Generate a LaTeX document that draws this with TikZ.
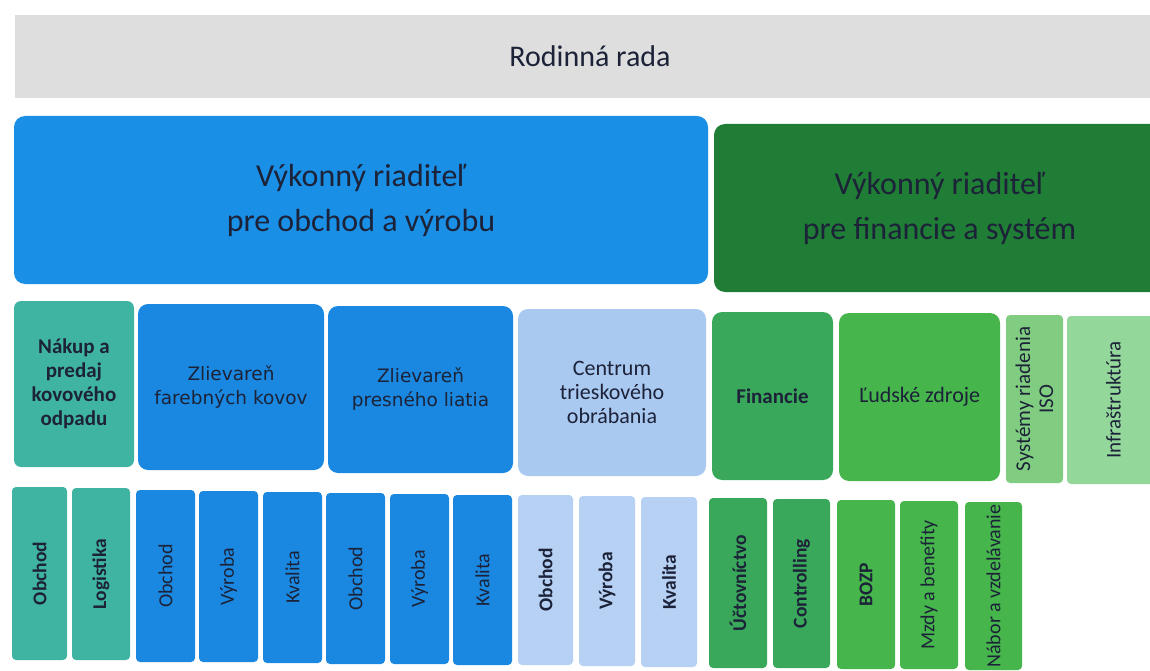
\documentclass[tikz,border=0pt]{standalone}
\usepackage{fontspec}
\setmainfont{Carlito}
\newfontfamily\wide{DejaVu Sans}
\definecolor{txt}{HTML}{1C2238}
\definecolor{cgray}{HTML}{DEDEDE}
\definecolor{cblueE}{HTML}{1A8FE6}
\definecolor{cgreenE}{HTML}{1F7D35}
\definecolor{cteal}{HTML}{40B4A2}
\definecolor{cblue}{HTML}{1A88E0}
\definecolor{clblue}{HTML}{AAC9F1}
\definecolor{cfin}{HTML}{3AA85A}
\definecolor{chr}{HTML}{46B54C}
\definecolor{csys}{HTML}{80CC80}
\definecolor{cinf}{HTML}{94D79B}
\definecolor{cllblue}{HTML}{B6D1F4}
\tikzset{
  box/.style={rectangle, inner sep=2pt, align=center, text=txt},
  big/.style={box, rounded corners=11pt, font=\fontsize{32}{45}\selectfont},
  mid/.style={box, rounded corners=10pt, font=\fontsize{22}{24}\selectfont},
  sub/.style={box, rounded corners=4pt, font=\fontsize{20}{22}\selectfont},
  subb/.style={sub, font=\fontsize{19.5}{22}\selectfont\bfseries},
}
\newcommand\bx[7]{%
 \pgfmathsetmacro\cx{(#2+#4)/2}\pgfmathsetmacro\cy{(#3+#5)/2}%
 \pgfmathsetmacro\ww{#4-#2}\pgfmathsetmacro\hh{#5-#3}%
 \node[#6,minimum width=\ww pt,minimum height=\hh pt] (#1) at (\cx pt,-\cy pt) {#7};}
\newcommand\vbx[7]{%
 \pgfmathsetmacro\cx{(#2+#4)/2}\pgfmathsetmacro\cy{(#3+#5)/2}%
 \pgfmathsetmacro\ww{#4-#2}\pgfmathsetmacro\hh{#5-#3}%
 \node[#6,rotate=90,minimum width=\hh pt,minimum height=\ww pt] (#1) at (\cx pt,-\cy pt) {#7};}
\begin{document}
\begin{tikzpicture}
\useasboundingbox (0,0) rectangle (1150pt,-671pt);
\clip (0,0) rectangle (1150pt,-671pt);
\fill[white] (0,0) rectangle (1150pt,-671pt);
% top
\bx{board}{15}{15}{1165}{98}{box, fill=cgray, font=\fontsize{30}{34}\selectfont}{Rodinná rada}
% executives
\bx{ceoA}{14}{116}{708}{284}{big, fill=cblueE}{Výkonný riaditeľ\\pre obchod a výrobu}
\bx{ceoB}{714}{124}{1165}{292}{big, fill=cgreenE}{Výkonný riaditeľ\\pre financie a systém}
% row 2
\bx{nak}{14}{301}{134}{467}{mid, fill=cteal, rounded corners=7pt, font=\fontsize{21}{24}\selectfont\bfseries}{Nákup a\\predaj\\kovového\\odpadu}
\bx{zfk}{138}{304}{324}{470}{mid, fill=cblue, font=\fontsize{18.5}{24}\wide}{Zlievareň\\farebných kovov}
\bx{zpl}{328}{306}{513}{473}{mid, fill=cblue, font=\fontsize{18.5}{24}\wide}{Zlievareň\\presného liatia}
\bx{ctr}{518}{309}{706}{476}{mid, fill=clblue}{Centrum\\trieskového\\obrábania}
\bx{fin}{712}{312}{833}{480}{mid, fill=cfin, font=\fontsize{21}{24}\selectfont\bfseries}{Financie}
\bx{lz}{839}{313}{1000}{481}{mid, fill=chr}{Ľudské zdroje}
\vbx{iso}{1006}{315}{1063}{483}{mid, fill=csys, rounded corners=4pt, font=\fontsize{21}{23}\selectfont}{Systémy riadenia\\ISO}
\vbx{inf}{1067}{316}{1160}{484}{mid, fill=cinf, rounded corners=4pt, font=\fontsize{21}{23}\selectfont}{Infraštruktúra}
% row 3
\vbx{a1}{12}{487}{67}{660}{subb, fill=cteal}{Obchod}
\vbx{a2}{72}{488}{130}{660}{subb, fill=cteal}{Logistika}
\vbx{b1}{136}{490}{195}{662}{sub, fill=cblue}{Obchod}
\vbx{b2}{199}{491}{258}{662}{sub, fill=cblue}{Výroba}
\vbx{b3}{263}{492}{322}{663}{sub, fill=cblue}{Kvalita}
\vbx{c1}{326}{493}{385}{664}{sub, fill=cblue}{Obchod}
\vbx{c2}{390}{494}{449}{664}{sub, fill=cblue}{Výroba}
\vbx{c3}{453}{495}{512}{665}{sub, fill=cblue}{Kvalita}
\vbx{d1}{518}{495}{573}{665}{subb, fill=cllblue}{Obchod}
\vbx{d2}{579}{496}{635}{666}{subb, fill=cllblue}{Výroba}
\vbx{d3}{641}{497}{697}{667}{subb, fill=cllblue}{Kvalita}
\vbx{e1}{709}{498}{767}{668}{subb, fill=cfin}{Účtovníctvo}
\vbx{e2}{773}{499}{830}{668}{subb, fill=cfin}{Controlling}
\vbx{f1}{837}{500}{895}{669}{subb, fill=chr}{BOZP}
\vbx{f2}{900}{501}{958}{669}{sub, fill=chr}{Mzdy a benefity}
\vbx{f3}{965}{502}{1022}{670}{sub, fill=chr}{Nábor a vzdelávanie}
\end{tikzpicture}
\end{document}
